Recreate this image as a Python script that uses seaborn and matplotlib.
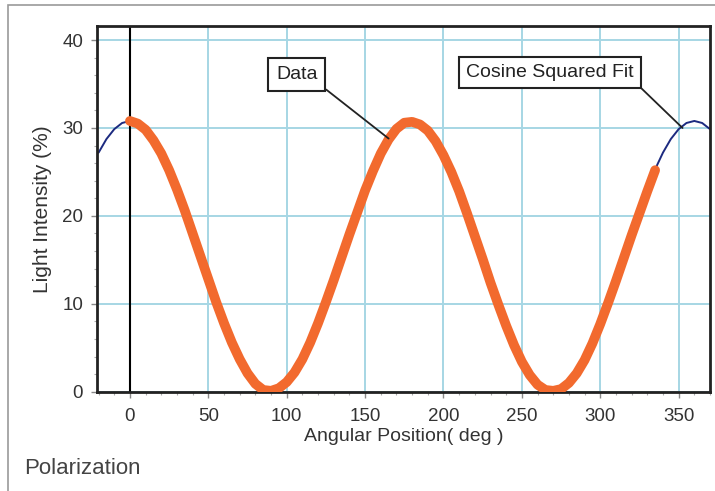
import numpy as np
import pandas as pd
import matplotlib
matplotlib.use("Agg")
import matplotlib.pyplot as plt
from matplotlib.ticker import MultipleLocator
from matplotlib.patches import Rectangle
import seaborn as sns

# ---- data ----
data_angle = [0, 5, 10, 15, 20, 25, 30, 35, 40, 45, 50, 55, 60, 65, 70, 75, 80, 85,
              90, 95, 100, 105, 110, 115, 120, 125, 130, 135, 140, 145, 150, 155, 160,
              165, 170, 175, 180, 185, 190, 195, 200, 205, 210, 215, 220, 225, 230, 235,
              240, 245, 250, 255, 260, 265, 270, 275, 280, 285, 290, 295, 300, 305, 310,
              315, 320, 325, 330, 335]
data_intensity = [30.8, 30.5, 29.8, 28.6, 27.1, 25.2, 23.0, 20.6, 18.0, 15.4, 12.8, 10.2,
                  7.8, 5.6, 3.7, 2.1, 0.9, 0.2, 0.1, 0.4, 1.1, 2.2, 3.7, 5.6, 7.8, 10.2,
                  12.7, 15.3, 17.9, 20.4, 22.9, 25.1, 27.1, 28.7, 29.9, 30.6, 30.7, 30.4,
                  29.7, 28.5, 26.9, 25.0, 22.8, 20.3, 17.7, 15.1, 12.4, 9.9, 7.5, 5.3, 3.4,
                  1.9, 0.8, 0.2, 0.1, 0.3, 1.0, 2.1, 3.6, 5.5, 7.7, 10.1, 12.6, 15.2, 17.8,
                  20.3, 22.8, 25.2]

fit_angle = [-20, -15, -10, -5, 0, 5, 10, 15, 20, 25, 30, 35, 40, 45, 50, 55, 60, 65, 70,
             75, 80, 85, 90, 95, 100, 105, 110, 115, 120, 125, 130, 135, 140, 145, 150,
             155, 160, 165, 170, 175, 180, 185, 190, 195, 200, 205, 210, 215, 220, 225,
             230, 235, 240, 245, 250, 255, 260, 265, 270, 275, 280, 285, 290, 295, 300,
             305, 310, 315, 320, 325, 330, 335, 340, 345, 350, 355, 360, 365, 370]
fit_intensity = [27.20, 28.74, 29.87, 30.57,
                 30.80, 30.57, 29.87, 28.74, 27.20, 25.30, 23.10, 20.67, 18.07, 15.40,
                 12.73, 10.13, 7.70, 5.50, 3.60, 2.06, 0.93, 0.23,
                 0.00, 0.23, 0.93, 2.06, 3.60, 5.50, 7.70, 10.13, 12.73, 15.40, 18.07,
                 20.67, 23.10, 25.30, 27.20, 28.74, 29.87, 30.57,
                 30.80, 30.57, 29.87, 28.74, 27.20, 25.30, 23.10, 20.67, 18.07, 15.40,
                 12.73, 10.13, 7.70, 5.50, 3.60, 2.06, 0.93, 0.23,
                 0.00, 0.23, 0.93, 2.06, 3.60, 5.50, 7.70, 10.13, 12.73, 15.40, 18.07,
                 20.67, 23.10, 25.30, 27.20, 28.74, 29.87, 30.57,
                 30.80, 30.57, 29.87]

x_ticks = [0, 50, 100, 150, 200, 250, 300, 350]
y_ticks = [0, 10, 20, 30, 40]

sns.set_style("white")
plt.rcParams['font.family'] = ['Liberation Sans', 'DejaVu Sans']

fig = plt.figure(figsize=(7.15, 4.91), dpi=100)
ax = fig.add_axes([0.1357, 0.2022, 0.8573, 0.7448])

df_fit = pd.DataFrame({"angle": fit_angle, "intensity": fit_intensity})
df_data = pd.DataFrame({"angle": data_angle, "intensity": data_intensity})

sns.lineplot(data=df_data, x="angle", y="intensity", ax=ax, color="#f26a2e",
             linewidth=7, solid_capstyle="round", zorder=3)
sns.lineplot(data=df_fit, x="angle", y="intensity", ax=ax, color="#1c2a80",
             linewidth=1.4, zorder=2)

ax.set_xlim(-21, 370)
ax.set_ylim(0.1, 41.6)
ax.set_xticks(x_ticks)
ax.set_yticks(y_ticks)
ax.xaxis.set_minor_locator(MultipleLocator(10))
ax.yaxis.set_minor_locator(MultipleLocator(2))
ax.grid(True, which="major", color="#a6d6e4", linewidth=1.4, zorder=0)
ax.set_axisbelow(True)
ax.axvline(0, color="black", linewidth=1.5, zorder=1)

for s in ax.spines.values():
    s.set_color("#222222")
    s.set_linewidth(2)

ax.tick_params(axis="both", which="major", direction="out", length=4, width=1,
               color="#888888", labelsize=13.5, labelcolor="#333333",
               left=True, bottom=True)
ax.tick_params(axis="x", which="major", pad=8)
ax.tick_params(axis="y", which="major", pad=6)
ax.tick_params(axis="both", which="minor", direction="out", length=2.5, width=0.8,
               color="#aaaaaa", left=True, bottom=True)

ax.set_xlabel("Angular Position( deg )", fontsize=14, color="#333333", labelpad=2)
ax.set_ylabel("Light Intensity (%)", fontsize=15, color="#333333", labelpad=7)

ax.annotate("Data", xy=(165, 28.8), xytext=(106.5, 36.1), textcoords="data",
            ha="center", va="center", fontsize=14, color="#222222",
            bbox=dict(boxstyle="square,pad=0.4", fc="white", ec="#222222", lw=1.5),
            arrowprops=dict(arrowstyle="-", color="#222222", lw=1.3,
                            relpos=(1, 0), shrinkA=0, shrinkB=0), zorder=5)
ax.annotate("Cosine Squared Fit", xy=(352.5, 30.0), xytext=(268, 36.3),
            textcoords="data", ha="center", va="center", fontsize=14, color="#222222",
            bbox=dict(boxstyle="square,pad=0.35", fc="white", ec="#222222", lw=1.5),
            arrowprops=dict(arrowstyle="-", color="#222222", lw=1.3,
                            relpos=(1, 0), shrinkA=0, shrinkB=0), zorder=5)

fig.text(24 / 715, 1 - 469 / 491, "Polarization", fontsize=16, color="#444444",
         ha="left", va="center")

fig.patches.append(Rectangle((8 / 715, -0.01), 1.0, 1 - 5 / 491 + 0.01,
                             transform=fig.transFigure, fill=False,
                             edgecolor="#9a9a9a", linewidth=1.2, zorder=0))

fig.savefig("out.png", dpi=100)
